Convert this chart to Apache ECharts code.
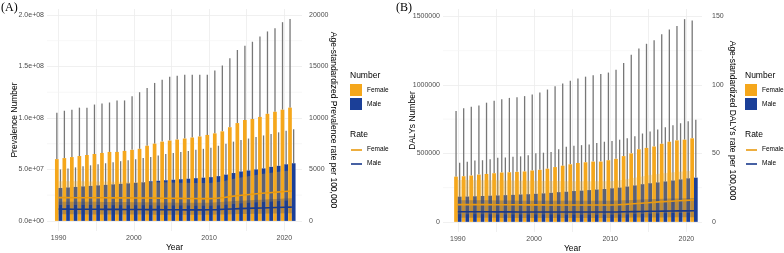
<!DOCTYPE html>
<html>
<head>
<meta charset="utf-8">
<script src="https://cdn.jsdelivr.net/npm/echarts@6/dist/echarts.min.js"></script>
<style>
html, body { margin: 0; padding: 0; background: #fff; }
#main { width: 784px; height: 253px; }
</style>
</head>
<body>
<div id="main"></div>
<script>
var years = [1990,1991,1992,1993,1994,1995,1996,1997,1998,1999,2000,2001,2002,2003,2004,2005,
             2006,2007,2008,2009,2010,2011,2012,2013,2014,2015,2016,2017,2018,2019,2020,2021];

// (A) prevalence numbers
var prevFemale = [6.0e7,6.1e7,6.2e7,6.3e7,6.4e7,6.5e7,6.6e7,6.7e7,6.7e7,6.8e7,6.9e7,7.0e7,7.3e7,7.5e7,7.7e7,7.8e7,
                  7.9e7,8.0e7,8.1e7,8.2e7,8.35e7,8.5e7,8.7e7,9.1e7,9.5e7,9.8e7,9.9e7,1.01e8,1.04e8,1.06e8,1.08e8,1.10e8];
var prevFemaleUp = [1.05e8,1.07e8,1.08e8,1.10e8,1.10e8,1.13e8,1.14e8,1.15e8,1.17e8,1.17e8,1.21e8,1.25e8,1.29e8,1.34e8,1.37e8,1.40e8,
                    1.41e8,1.42e8,1.42e8,1.42e8,1.42e8,1.46e8,1.51e8,1.58e8,1.66e8,1.70e8,1.74e8,1.79e8,1.84e8,1.87e8,1.93e8,1.96e8];
var prevMale = [3.2e7,3.25e7,3.3e7,3.35e7,3.4e7,3.45e7,3.5e7,3.55e7,3.6e7,3.65e7,3.7e7,3.75e7,3.85e7,3.9e7,3.95e7,4.0e7,
                4.05e7,4.1e7,4.15e7,4.2e7,4.25e7,4.35e7,4.5e7,4.65e7,4.8e7,4.9e7,5.0e7,5.1e7,5.25e7,5.35e7,5.5e7,5.6e7];
var prevMaleUp = [5.0e7,5.1e7,5.2e7,5.3e7,5.4e7,5.5e7,5.6e7,5.7e7,5.8e7,5.9e7,6.0e7,6.1e7,6.2e7,6.35e7,6.5e7,6.6e7,
                  6.7e7,6.8e7,6.9e7,7.0e7,7.1e7,7.3e7,7.5e7,7.7e7,7.85e7,8.0e7,8.15e7,8.3e7,8.45e7,8.6e7,8.75e7,8.9e7];
// (A) age-standardized prevalence rate
var prevRateFemale = [2260,2260,2255,2255,2250,2250,2245,2240,2240,2235,2230,2225,2220,2215,2205,2195,
                      2185,2175,2170,2165,2165,2200,2280,2380,2460,2540,2610,2680,2740,2800,2850,2900];
var prevRateFemaleLow = [1550,1550,1545,1545,1540,1540,1535,1530,1530,1525,1520,1515,1510,1505,1500,1495,
                         1490,1485,1480,1475,1475,1500,1550,1620,1680,1730,1780,1830,1870,1910,1950,1980];
var prevRateFemaleUp = [3850,3850,3840,3840,3830,3830,3820,3810,3810,3800,3790,3780,3770,3760,3750,3730,
                        3710,3700,3690,3680,3680,3750,3880,4050,4190,4320,4440,4560,4660,4760,4850,4930];
var prevRateMale = [1140,1140,1135,1135,1130,1130,1125,1125,1120,1115,1110,1105,1100,1095,1090,1085,
                    1080,1075,1075,1075,1080,1100,1130,1160,1190,1215,1240,1260,1280,1300,1320,1340];
var prevRateMaleLow = [640,640,635,635,630,630,628,628,625,620,618,615,612,610,608,605,
                       602,600,600,600,602,612,628,645,662,676,690,700,712,723,734,745];
var prevRateMaleUp = [1870,1870,1860,1860,1850,1850,1845,1845,1835,1830,1820,1810,1805,1795,1785,1780,
                      1770,1765,1765,1765,1770,1805,1855,1900,1950,1990,2030,2065,2100,2130,2165,2200];

// (B) DALYs numbers
var dalyFemale = [3.30e5,3.33e5,3.38e5,3.45e5,3.50e5,3.55e5,3.60e5,3.62e5,3.65e5,3.68e5,3.75e5,3.80e5,3.88e5,4.00e5,4.10e5,4.20e5,
                  4.30e5,4.35e5,4.40e5,4.40e5,4.50e5,4.60e5,4.80e5,5.00e5,5.30e5,5.40e5,5.50e5,5.70e5,5.85e5,5.95e5,6.00e5,6.10e5];
var dalyFemaleUp = [8.1e5,8.3e5,8.4e5,8.5e5,8.7e5,8.85e5,8.95e5,9.05e5,9.1e5,9.18e5,9.3e5,9.45e5,9.66e5,9.9e5,1.01e6,1.03e6,
                    1.047e6,1.06e6,1.07e6,1.08e6,1.09e6,1.11e6,1.16e6,1.22e6,1.265e6,1.30e6,1.325e6,1.37e6,1.405e6,1.43e6,1.48e6,1.47e6];
var dalyMale = [1.84e5,1.85e5,1.87e5,1.89e5,1.91e5,1.93e5,1.95e5,1.97e5,2.00e5,2.02e5,2.05e5,2.08e5,2.12e5,2.17e5,2.20e5,2.25e5,
                2.28e5,2.32e5,2.36e5,2.40e5,2.45e5,2.50e5,2.58e5,2.66e5,2.75e5,2.82e5,2.88e5,2.95e5,3.02e5,3.10e5,3.18e5,3.23e5];
var dalyMaleUp = [4.32e5,4.38e5,4.48e5,4.50e5,4.57e5,4.68e5,4.70e5,4.75e5,4.78e5,4.86e5,5.00e5,5.05e5,5.10e5,5.30e5,5.48e5,5.55e5,
                  5.60e5,5.65e5,5.75e5,5.85e5,5.90e5,6.00e5,6.10e5,6.25e5,6.45e5,6.60e5,6.75e5,6.90e5,7.05e5,7.20e5,7.35e5,7.45e5];
// (B) age-standardized DALYs rate
var dalyRateFemale = [12.6,12.6,12.6,12.55,12.55,12.5,12.5,12.45,12.45,12.4,12.4,12.4,12.35,12.35,12.3,12.3,
                      12.3,12.3,12.3,12.3,12.3,12.5,12.8,13.2,13.6,14.0,14.4,14.8,15.1,15.4,15.7,16.0];
var dalyRateFemaleLow = [5.5,5.5,5.5,5.5,5.5,5.4,5.4,5.4,5.4,5.3,5.3,5.3,5.3,5.3,5.2,5.2,
                         5.2,5.2,5.2,5.2,5.2,5.3,5.4,5.6,5.8,6.0,6.1,6.3,6.4,6.5,6.7,6.8];
var dalyRateFemaleUp = [30.5,30.5,30.4,30.4,30.3,30.3,30.2,30.2,30.1,30.0,30.0,29.9,29.8,29.8,29.7,29.7,
                        29.6,29.6,29.6,29.6,29.7,30.2,31.0,32.0,33.0,34.0,34.8,35.5,36.0,36.5,37.0,37.5];
var dalyRateMale = [7.4,7.4,7.4,7.35,7.35,7.3,7.3,7.3,7.25,7.25,7.2,7.2,7.2,7.2,7.2,7.2,
                    7.2,7.2,7.2,7.2,7.25,7.3,7.4,7.5,7.6,7.7,7.8,7.85,7.9,8.0,8.05,8.1];
var dalyRateMaleLow = [3.0,3.0,3.0,3.0,3.0,3.0,2.9,2.9,2.9,2.9,2.9,2.9,2.9,2.9,2.9,2.9,
                       2.9,2.9,2.9,2.9,2.9,3.0,3.0,3.1,3.1,3.2,3.2,3.2,3.3,3.3,3.3,3.4];
var dalyRateMaleUp = [15.8,15.8,15.8,15.7,15.7,15.6,15.6,15.6,15.5,15.5,15.4,15.4,15.4,15.4,15.4,15.4,
                      15.4,15.4,15.4,15.4,15.5,15.6,15.8,16.0,16.3,16.5,16.7,16.8,17.0,17.1,17.3,17.4];

// minor grid values (between the major ticks)
var minorYA = [2.5e7, 7.5e7, 1.25e8, 1.75e8];
var minorYB = [250000, 750000, 1250000];

var colFemale = '#F5A71C', colMale = '#1B3F98';
var lineFemale = '#E99A10', lineMale = '#1A3A8C';
var labelGray = '#4d4d4d', gridCol = '#ececec';
var font = 'Liberation Sans, Arial, sans-serif';
var halfBar = 1.8;

var chart = echarts.init(document.getElementById('main'));

function sci(v) {
  var s = v.toExponential(1);
  return s.replace(/e([+-])(\d)$/, function (m, sg, d) { return 'e' + sg + '0' + d; });
}
function pairs(a) { return years.map(function (y, i) { return [y, a[i]]; }); }
function triples(a, b) { return years.map(function (y, i) { return [y, a[i], b[i]]; }); }

function errSeries(xi, yi, val, up, dx) {
  return {
    type: 'custom', xAxisIndex: xi, yAxisIndex: yi, z: 1, silent: true,
    data: triples(val, up),
    encode: { x: 0, y: [1, 2] },
    renderItem: function (params, api) {
      var a = api.coord([api.value(0), api.value(1)]);
      var b = api.coord([api.value(0), api.value(2)]);
      return { type: 'line', shape: { x1: a[0] + dx, y1: a[1], x2: a[0] + dx, y2: b[1] },
               style: { stroke: '#777', lineWidth: 1.3 } };
    }
  };
}
function ribbonSeries(xi, yi, low, up, color) {
  return {
    type: 'custom', xAxisIndex: xi, yAxisIndex: yi, z: 3, silent: true,
    data: [[years[0], low[0]]],
    renderItem: function (params, api) {
      var pts = [];
      for (var i = 0; i < years.length; i++) pts.push(api.coord([years[i], up[i]]));
      for (var j = years.length - 1; j >= 0; j--) pts.push(api.coord([years[j], low[j]]));
      return { type: 'polygon', shape: { points: pts }, style: { fill: color } };
    }
  };
}
function minorGrid(xi, yi, vals) {
  return {
    type: 'custom', xAxisIndex: xi, yAxisIndex: yi, z: 0, silent: true,
    data: vals.map(function (v) { return [years[0], v]; }),
    renderItem: function (params, api) {
      var cs = params.coordSys;
      var p = api.coord([api.value(0), api.value(1)]);
      return { type: 'line', shape: { x1: cs.x, y1: p[1], x2: cs.x + cs.width, y2: p[1] },
               style: { stroke: '#f3f3f3', lineWidth: 0.7 } };
    }
  };
}
function barSeries(xi, yi, vals, color) {
  return { type: 'bar', xAxisIndex: xi, yAxisIndex: yi, z: 2, data: pairs(vals),
           barWidth: 3.7, barGap: '0%', itemStyle: { color: color } };
}
function rateLine(xi, yi, vals, color) {
  return { type: 'line', xAxisIndex: xi, yAxisIndex: yi, z: 4, data: pairs(vals), symbol: 'none',
           lineStyle: { color: color, width: 1.6 }, silent: true };
}

function xAxisOf(gi, min, max) {
  return {
    type: 'value', gridIndex: gi, min: min, max: max,
    name: 'Year', nameLocation: 'middle', nameGap: 12, nameMoveOverlap: false,
    nameTextStyle: { color: '#000', fontSize: 8.5, fontFamily: font },
    axisLine: { show: false }, axisTick: { show: false },
    axisLabel: { color: labelGray, fontSize: 7, fontFamily: font, margin: 4,
                 showMinLabel: false, showMaxLabel: false,
                 formatter: function (v) { return v % 10 === 0 ? String(v) : ''; } },
    splitLine: { show: true, showMinLine: false, showMaxLine: false, lineStyle: { color: gridCol, width: 0.8 } }
  };
}
function yAxisOf(gi, min, max, split, name, pos, gap, fmt, rot, margin) {
  return {
    type: 'value', gridIndex: gi, min: min, max: max, splitNumber: split, position: pos,
    name: name, nameLocation: 'middle', nameGap: gap, nameRotate: rot, nameMoveOverlap: false,
    nameTextStyle: { color: '#000', fontSize: 8.5, fontFamily: font },
    axisLine: { show: false }, axisTick: { show: false },
    axisLabel: { color: labelGray, fontSize: 7, fontFamily: font, margin: margin,
                 showMinLabel: false, showMaxLabel: false, formatter: fmt },
    splitLine: { show: pos === 'left', showMinLine: false, showMaxLine: false, lineStyle: { color: gridCol, width: 0.8 } }
  };
}
function plain(v) { return String(v); }

function legendAt(x) {
  var t = { fill: '#000', fontSize: 8.5, fontFamily: font };
  var s = { fill: '#000', fontSize: 6.5, fontFamily: font };
  return [
    { type: 'text', left: x, top: 71, style: Object.assign({ text: 'Number' }, t) },
    { type: 'rect', shape: { x: x, y: 84, width: 12, height: 12 }, style: { fill: colFemale } },
    { type: 'rect', shape: { x: x, y: 98, width: 12, height: 12 }, style: { fill: colMale } },
    { type: 'text', left: x + 17, top: 87, style: Object.assign({ text: 'Female' }, s) },
    { type: 'text', left: x + 17, top: 101, style: Object.assign({ text: 'Male' }, s) },
    { type: 'text', left: x, top: 130, style: Object.assign({ text: 'Rate' }, t) },
    { type: 'line', shape: { x1: x + 1, y1: 150, x2: x + 12, y2: 150 }, style: { stroke: lineFemale, lineWidth: 1.6 } },
    { type: 'line', shape: { x1: x + 1, y1: 164, x2: x + 12, y2: 164 }, style: { stroke: lineMale, lineWidth: 1.6 } },
    { type: 'text', left: x + 17, top: 146, style: Object.assign({ text: 'Female' }, s) },
    { type: 'text', left: x + 17, top: 160, style: Object.assign({ text: 'Male' }, s) }
  ];
}

var option = {
  animation: false,
  backgroundColor: '#fff',
  grid: [
    { left: 47, top: 9, width: 255, height: 222, outerBoundsMode: 'none', containLabel: false },
    { left: 443, top: 9, width: 259, height: 223, outerBoundsMode: 'none', containLabel: false }
  ],
  xAxis: [ xAxisOf(0, 1988.45, 2022.35), xAxisOf(1, 1988.05, 2022.05) ],
  yAxis: [
    yAxisOf(0, -9.8e6, 2.058e8, 5, 'Prevalence Number', 'left', 28, sci, 90, 3),
    yAxisOf(0, -980, 20580, 5, 'Age-standardized Prevalence rate per 100,000', 'right', 27, plain, -90, 7),
    yAxisOf(1, -74000, 1554000, 3, 'DALYs Number', 'left', 26, plain, 90, 3),
    yAxisOf(1, -7.4, 155.4, 3, 'Age-standardized DALYs rate per 100,000', 'right', 26, plain, -90, 10)
  ],
  graphic: [
    { type: 'text', left: 1, top: 2, style: { text: '(A)', fill: '#000', fontSize: 12, fontFamily: 'Liberation Serif, serif' } },
    { type: 'text', left: 396, top: 2, style: { text: '(B)', fill: '#000', fontSize: 12, fontFamily: 'Liberation Serif, serif' } }
  ].concat(legendAt(350), legendAt(745)),
  series: [
    minorGrid(0, 0, minorYA),
    errSeries(0, 0, prevFemale, prevFemaleUp, -halfBar),
    errSeries(0, 0, prevMale, prevMaleUp, halfBar),
    barSeries(0, 0, prevFemale, colFemale),
    barSeries(0, 0, prevMale, colMale),
    ribbonSeries(0, 1, prevRateFemaleLow, prevRateFemaleUp, 'rgba(245,175,40,0.30)'),
    ribbonSeries(0, 1, prevRateMaleLow, prevRateMaleUp, 'rgba(40,60,120,0.28)'),
    rateLine(0, 1, prevRateFemale, lineFemale),
    rateLine(0, 1, prevRateMale, lineMale),

    minorGrid(1, 2, minorYB),
    errSeries(1, 2, dalyFemale, dalyFemaleUp, -halfBar),
    errSeries(1, 2, dalyMale, dalyMaleUp, halfBar),
    barSeries(1, 2, dalyFemale, colFemale),
    barSeries(1, 2, dalyMale, colMale),
    ribbonSeries(1, 3, dalyRateFemaleLow, dalyRateFemaleUp, 'rgba(245,175,40,0.30)'),
    ribbonSeries(1, 3, dalyRateMaleLow, dalyRateMaleUp, 'rgba(40,60,120,0.28)'),
    rateLine(1, 3, dalyRateFemale, lineFemale),
    rateLine(1, 3, dalyRateMale, lineMale)
  ]
};
chart.setOption(option);
</script>
</body>
</html>
